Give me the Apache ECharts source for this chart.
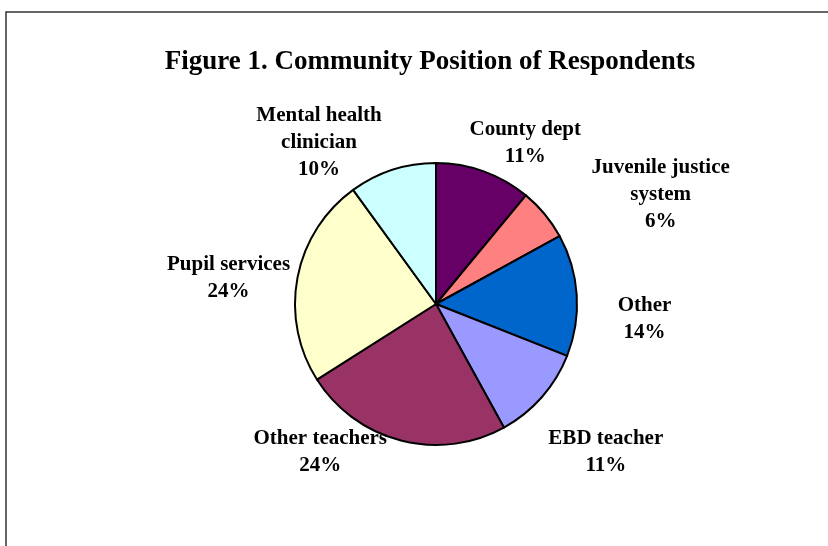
<!DOCTYPE html>
<html>
<head>
<meta charset="utf-8">
<style>
  html, body { margin: 0; padding: 0; background: #ffffff; }
  #chart { width: 828px; height: 546px; }
</style>
<script src="https://cdn.jsdelivr.net/npm/echarts@6/dist/echarts.min.js"></script>
</head>
<body>
<div id="chart"></div>
<script>
// Respondent groups, clockwise from 12 o'clock
var categories = [
  'County dept',
  'Juvenile justice\nsystem',
  'Other',
  'EBD teacher',
  'Other teachers',
  'Pupil services',
  'Mental health\nclinician'
];
// Share of respondents (%)
var shares = [11, 6, 14, 11, 24, 24, 10];
var sliceColors = ['#660066', '#FF8080', '#0066CC', '#9999FF', '#993366', '#FFFFCC', '#CCFFFF'];

// Label anchor: angle from 12 o'clock (deg, clockwise) and distance from the pie centre (px)
var labelAngles = [29, 64, 94, 131, 218, 277, 324];
var labelDistances = [184, 250, 209, 225, 188, 209, 199];

var centerX = 436, centerY = 304, radius = 141;
var serif = '"Liberation Serif", "Times New Roman", serif';

var chart = echarts.init(document.getElementById('chart'), null, { renderer: 'canvas' });

chart.setOption({
  animation: false,
  backgroundColor: '#ffffff',
  title: {
    text: 'Figure 1. Community Position of Respondents',
    left: 425,
    textAlign: 'center',
    top: 44,
    textStyle: { fontFamily: serif, fontWeight: 'bold', fontSize: 27, color: '#000000' }
  },
  graphic: [{
    type: 'rect',
    shape: { x: 6, y: 12, width: 860, height: 560 },
    style: { fill: 'none', stroke: '#333333', lineWidth: 1.5 },
    silent: true
  }],
  series: [{
    type: 'pie',
    center: [centerX, centerY],
    radius: radius,
    startAngle: 90,
    clockwise: true,
    avoidLabelOverlap: false,
    itemStyle: { borderColor: '#000000', borderWidth: 2 },
    label: {
      show: true,
      position: 'outside',
      formatter: function (p) { return p.name + '\n' + p.value + '%'; },
      fontFamily: serif,
      fontWeight: 'bold',
      fontSize: 21,
      lineHeight: 27,
      color: '#000000',
      align: 'center'
    },
    labelLine: { show: false },
    labelLayout: function (params) {
      var i = params.dataIndex;
      var a = labelAngles[i] * Math.PI / 180;
      var d = labelDistances[i];
      return {
        x: centerX + d * Math.sin(a),
        y: centerY - d * Math.cos(a),
        align: 'center',
        verticalAlign: 'middle'
      };
    },
    data: categories.map(function (name, i) {
      return { name: name, value: shares[i], itemStyle: { color: sliceColors[i] } };
    })
  }]
});
</script>
</body>
</html>
